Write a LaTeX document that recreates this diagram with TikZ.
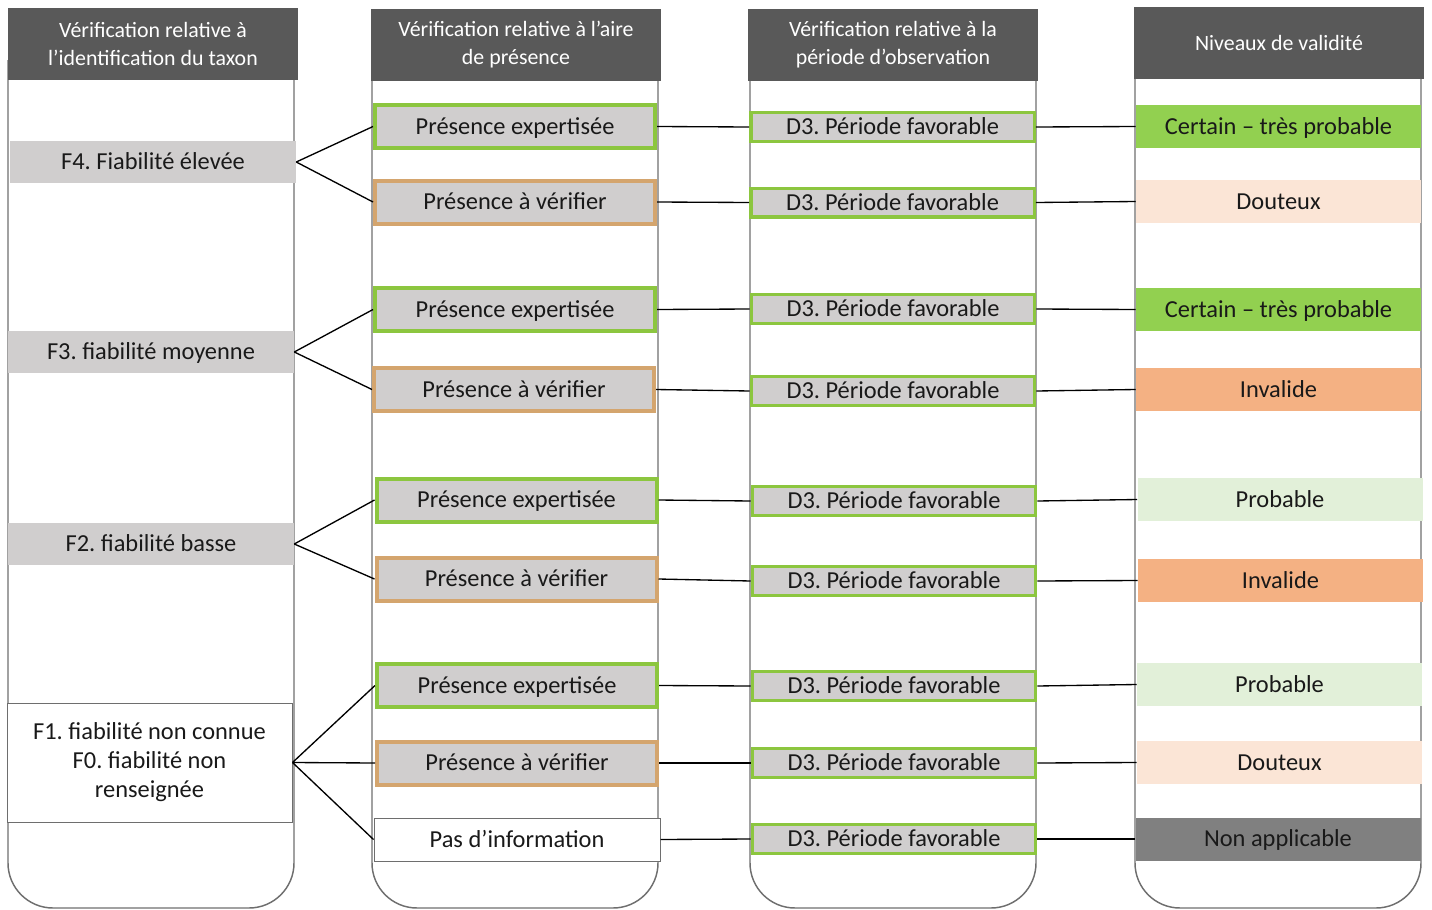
\documentclass[tikz,border=0pt]{standalone}
\usepackage{fontspec}
\setmainfont{Carlito}
\usepackage{tikz}

\definecolor{headgrey}{RGB}{89,89,89}
\definecolor{boxgrey}{RGB}{208,206,206}
\definecolor{colline}{RGB}{110,110,110}
\definecolor{okgreen}{RGB}{140,198,63}
\definecolor{tanline}{RGB}{212,165,110}
\definecolor{certainfill}{RGB}{146,208,80}
\definecolor{douteuxfill}{RGB}{251,229,214}
\definecolor{invalidefill}{RGB}{244,177,131}
\definecolor{probablefill}{RGB}{226,240,217}
\definecolor{nonappfill}{RGB}{128,128,128}
\definecolor{inkdark}{RGB}{25,25,25}

\tikzset{
  head/.style={fill=headgrey, text=white, minimum width=217.5pt, minimum height=54pt,
    inner sep=0pt, align=center, font=\fontsize{16.4}{21}\selectfont},
  boxtext/.style={inner sep=0pt, text=inkdark, font=\fontsize{18.3}{21.75}\selectfont,
    text height=11.4pt, text depth=0pt},
  relbox/.style={boxtext, fill=boxgrey, minimum width=214.5pt, minimum height=31.5pt},
  unkbox/.style={inner sep=0pt, align=center, text=inkdark, font=\fontsize{18.3}{21.75}\selectfont,
    fill=white, draw=colline, line width=0.75pt, minimum width=213.75pt, minimum height=89.25pt},
  expbox/.style={boxtext, fill=boxgrey, draw=okgreen, line width=3pt, minimum width=210pt, minimum height=32.25pt},
  verbox/.style={expbox, draw=tanline},
  noinfo/.style={boxtext, fill=white, draw=colline, line width=0.75pt, minimum width=214.5pt, minimum height=32.25pt},
  perbox/.style={boxtext, fill=boxgrey, draw=okgreen, line width=2.6pt, minimum width=212.6pt, minimum height=21.4pt},
  lvlbox/.style={boxtext, minimum width=213.75pt, minimum height=32.25pt},
  column/.style={draw=colline, line width=1.1pt, rounded corners=33.75pt},
  link/.style={draw=black, line width=1pt}
}

\begin{document}
\frenchspacing
\begin{tikzpicture}[x=0.75pt,y=0.75pt,yscale=-1,xscale=1]
\useasboundingbox (0,0) rectangle (1432,910);

%Shape: Columns
\draw [column] (8,60) -- (8,908) -- (294,908) -- (294,60) ;
\draw [column] (372,60) -- (372,908) -- (658,908) -- (658,60) ;
\draw [column] (750,60) -- (750,908) -- (1036,908) -- (1036,60) ;
\draw [column] (1135,60) -- (1135,908) -- (1421,908) -- (1421,60) ;

% Headers
\node [head] (h1) at (153,44) {Vérification relative à\\l’identification du taxon};
\node [head] (h2) at (516,45) {Vérification relative à l’aire\\de présence};
\node [head] (h3) at (893,45) {Vérification relative à la\\période d’observation};
\node [head] (h4) at (1279,43) {Niveaux de validité};

% Text Node: identification du taxon
\node [relbox] (f4) at (153,162) {F4. Fiabilité élevée};
\node [relbox] (f3) at (151,352) {F3. fiabilité moyenne};
\node [relbox] (f2) at (151,544) {F2. fiabilité basse};
\node [unkbox] (f1) at (149.5,762.5) {F1. fiabilité non connue\\F0. fiabilité non\\renseignée};

% Text Node: aire de presence
\node [expbox] (a1) at (515,126.5) {Présence expertisée};
\node [verbox] (a2) at (515,202) {Présence à vérifier};
\node [expbox] (a3) at (515,309.5) {Présence expertisée};
\node [verbox] (a4) at (514,389.5) {Présence à vérifier};
\node [expbox] (a5) at (516.5,500) {Présence expertisée};
\node [verbox] (a6) at (516.5,579) {Présence à vérifier};
\node [expbox] (a7) at (517,685.5) {Présence expertisée};
\node [verbox] (a8) at (517,763) {Présence à vérifier};
\node [noinfo] (a9) at (517,839.5) {Pas d’information};

% Text Node: periode d'observation
\node [perbox] (p1) at (892.5,127) {D3. Période favorable};
\node [perbox] (p2) at (892.5,202.5) {D3. Période favorable};
\node [perbox] (p3) at (893,309) {D3. Période favorable};
\node [perbox] (p4) at (893,391) {D3. Période favorable};
\node [perbox] (p5) at (894,501) {D3. Période favorable};
\node [perbox] (p6) at (894,581) {D3. Période favorable};
\node [perbox] (p7) at (894,686) {D3. Période favorable};
\node [perbox] (p8) at (894,763) {D3. Période favorable};
\node [perbox] (p9) at (894,839) {D3. Période favorable};

% Text Node: niveaux de validite
\node [lvlbox, fill=certainfill] (v1) at (1278.5,126.5) {Certain – très probable};
\node [lvlbox, fill=douteuxfill] (v2) at (1278.5,201.5) {Douteux};
\node [lvlbox, fill=certainfill] (v3) at (1278.5,309.5) {Certain – très probable};
\node [lvlbox, fill=invalidefill] (v4) at (1278.5,389.5) {Invalide};
\node [lvlbox, fill=probablefill] (v5) at (1280,499.5) {Probable};
\node [lvlbox, fill=invalidefill] (v6) at (1280.5,580.5) {Invalide};
\node [lvlbox, fill=probablefill] (v7) at (1279.5,684.5) {Probable};
\node [lvlbox, fill=douteuxfill] (v8) at (1279.5,762.5) {Douteux};
\node [lvlbox, fill=nonappfill] (v9) at (1278,839) {Non applicable};

%Straight Lines: fans
\draw [link] (f4.east) -- (a1.west) ;
\draw [link] (f4.east) -- (a2.west) ;
\draw [link] (f3.east) -- (a3.west) ;
\draw [link] (f3.east) -- (a4.west) ;
\draw [link] (f2.east) -- (a5.west) ;
\draw [link] (f2.east) -- (a6.west) ;
\draw [link] (f1.east) -- (a7.west) ;
\draw [link] (f1.east) -- (a8.west) ;
\draw [link] (f1.east) -- (a9.west) ;

%Straight Lines: rows
\foreach \i in {1,...,9}{
  \draw [link] (a\i.east) -- (p\i.west) ;
  \draw [link] (p\i.east) -- (v\i.west) ;
}

\end{tikzpicture}
\end{document}
